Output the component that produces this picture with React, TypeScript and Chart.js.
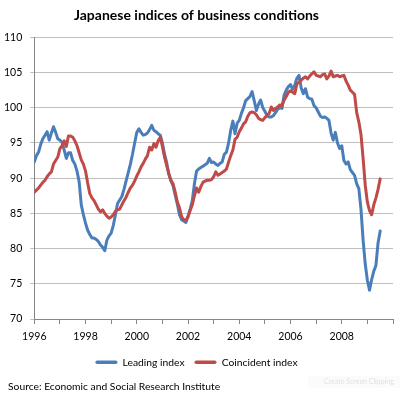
import { useEffect, useRef } from 'react'
import { Chart, registerables } from 'chart.js'

Chart.register(...registerables)

// monthly values, Jan 1996 .. Jul 2009
const START_YEAR = 1996

const leadingIndex = [
  92.3, 93.2, 93.7, 94.8, 95.6, 96.1, 96.6, 95.4, 96.4, 97.3, 96.5, 95.6,
  95.4, 95.1, 94.0, 92.8, 93.6, 93.6, 92.5, 92.0, 91.0, 89.5, 86.2, 84.8,
  83.6, 82.6, 82.0, 81.5, 81.5, 81.3, 81.0, 80.5, 80.2, 79.7, 81.2, 81.8,
  82.2, 83.3, 84.8, 86.4, 86.9, 87.4, 88.4, 89.6, 90.8, 92.0, 93.4, 95.0,
  96.5, 97.0, 96.5, 96.1, 96.2, 96.4, 96.9, 97.5, 96.8, 96.6, 96.3, 96.1,
  95.0, 93.4, 92.2, 90.6, 89.6, 88.9, 87.6, 86.3, 84.8, 84.1, 83.9, 83.7,
  84.6, 85.6, 86.8, 89.2, 91.0, 91.3, 91.5, 91.7, 91.9, 92.1, 92.8, 92.2,
  92.3, 92.0, 91.8, 92.1, 92.3, 93.4, 93.7, 95.0, 96.8, 98.1, 96.3, 97.8,
  98.2, 99.2, 100.0, 101.0, 101.3, 101.6, 102.3, 101.0, 99.6, 100.5, 101.1, 100.0,
  99.5, 98.9, 98.7, 98.7, 98.9, 99.3, 99.8, 100.0, 99.9, 101.8, 102.5, 103.0,
  103.3, 102.6, 103.2, 104.2, 104.6, 102.8, 102.0, 102.7, 101.5, 101.3, 101.2, 100.3,
  100.0, 99.4, 98.8, 98.6, 98.7, 98.5, 98.2, 96.4, 95.4, 96.5, 95.0, 94.2,
  94.6, 92.5, 92.0, 92.3, 91.2, 90.8, 90.4, 89.2, 88.5, 85.6, 81.2, 77.8,
  75.5, 74.1, 75.6, 76.8, 77.6, 80.8, 82.5,
]

const coincidentIndex = [
  88.0, 88.3, 88.6, 89.0, 89.4, 89.7, 90.2, 90.6, 90.9, 92.0, 92.5, 93.0,
  94.2, 94.6, 95.3, 94.5, 96.0, 96.0, 95.8, 95.3, 94.6, 93.6, 92.6, 92.0,
  91.0, 89.3, 87.8, 87.2, 86.8, 86.2, 85.6, 85.2, 85.5, 85.0, 84.6, 84.3,
  84.5, 84.8, 85.3, 85.5, 85.6, 86.2, 86.8, 87.3, 88.0, 88.6, 89.0, 89.6,
  90.3, 90.9, 91.6, 92.1, 92.7, 93.2, 94.4, 94.0, 94.9, 94.4, 95.3, 95.8,
  94.5, 93.0, 91.8, 90.6, 89.7, 89.2, 88.0, 86.6, 85.8, 84.5, 84.1, 84.0,
  84.5, 85.4, 86.2, 87.5, 88.6, 88.0, 88.8, 89.4, 89.6, 89.7, 89.7, 89.8,
  90.2, 90.9, 90.4, 90.6, 90.8, 91.0, 91.3, 92.3, 93.2, 94.0, 95.5, 95.8,
  96.6, 97.1, 97.7, 98.0, 98.8, 99.3, 99.4, 99.3, 99.0, 98.5, 98.3, 98.2,
  98.6, 98.9, 99.2, 100.1, 99.6, 99.9, 100.1, 100.4, 100.3, 101.1, 101.6, 102.2,
  102.4, 102.2, 102.0, 103.4, 103.6, 103.9, 104.2, 104.4, 104.1, 104.5, 104.8, 105.1,
  104.6, 104.5, 104.4, 104.7, 104.8, 104.1, 104.5, 105.2, 104.4, 104.5, 104.6, 104.4,
  104.5, 104.6, 103.8, 103.2, 102.5, 102.2, 101.9, 99.3, 98.0, 96.2, 92.8, 89.0,
  86.6, 85.4, 84.8, 86.2, 87.2, 88.4, 89.9,
]

const seriesNames = ['Leading index', 'Coincident index']
const yTicks = [70, 75, 80, 85, 90, 95, 100, 105, 110]
const xRange = [1996, 2010]
const sourceNote = 'Source: Economic and Social Research Institute'

const toPoints = (values: number[]) =>
  values.map((v, i) => ({ x: START_YEAR + i / 12, y: v }))

const FONT = 'Lato, "Open Sans", sans-serif'

// source line and the faint clipping-tool label under the chart
const footer = {
  id: 'footer',
  afterDraw(chart: Chart) {
    const { ctx } = chart
    ctx.save()
    ctx.textAlign = 'left'
    ctx.textBaseline = 'middle'
    ctx.fillStyle = '#000'
    ctx.font = '10.3px ' + FONT
    ctx.fillText(sourceNote, 8, 387)
    ctx.fillStyle = '#fbfbfb'
    ctx.fillRect(308, 376, 92, 12)
    ctx.fillStyle = '#e2e2e2'
    ctx.font = '7px ' + FONT
    ctx.fillText('Create Screen Clipping', 324, 382)
    ctx.restore()
  },
}

export default function App() {
  const canvasRef = useRef<HTMLCanvasElement | null>(null)

  useEffect(() => {
    let chart: Chart<'line', { x: number; y: number }[]> | null = null
    if (canvasRef.current) {
      chart = new Chart(canvasRef.current, {
        type: 'line',
        data: {
          datasets: [
            {
              label: seriesNames[0],
              data: toPoints(leadingIndex),
              borderColor: '#4A7EBB',
              backgroundColor: '#4A7EBB',
              borderWidth: 3,
              pointRadius: 0,
              borderJoinStyle: 'round',
              borderCapStyle: 'round',
              order: 1,
            },
            {
              label: seriesNames[1],
              data: toPoints(coincidentIndex),
              borderColor: '#BE4B48',
              backgroundColor: '#BE4B48',
              borderWidth: 3,
              pointRadius: 0,
              borderJoinStyle: 'round',
              borderCapStyle: 'round',
              order: 0,
            },
          ],
        },
        options: {
          animation: false,
          responsive: true,
          maintainAspectRatio: false,
          layout: { padding: { left: 0, right: 7, top: 0, bottom: 22.5 } },
          scales: {
            x: {
              type: 'linear',
              min: xRange[0],
              max: xRange[1],
              afterFit: (scale) => {
                scale.height = 28.2
              },
              grid: { drawOnChartArea: false, drawTicks: true, tickLength: 5, color: '#868686' },
              border: { color: '#868686' },
              ticks: {
                stepSize: 1,
                autoSkip: false,
                maxRotation: 0,
                padding: 6,
                color: '#000',
                font: { family: FONT, size: 10.5 },
                callback: (v) => {
                  const year = Number(v)
                  return year % 2 === 0 && year < xRange[1] ? String(year) : ''
                },
              },
            },
            y: {
              min: yTicks[0],
              max: yTicks[yTicks.length - 1],
              afterBuildTicks: (scale) => {
                scale.ticks = yTicks.map((v) => ({ value: v }))
              },
              afterFit: (scale) => {
                scale.width = 34.3
              },
              grid: { color: '#BFBFBF', tickLength: 4 },
              border: { color: '#868686' },
              ticks: {
                padding: 8,
                color: '#000',
                font: { family: FONT, size: 10.5 },
              },
            },
          },
          plugins: {
            title: {
              display: true,
              text: 'Japanese indices of business conditions',
              color: '#000',
              font: { family: FONT, size: 14, weight: 'bold' },
              padding: { top: 7.1, bottom: 13.4 },
            },
            legend: {
              position: 'bottom',
              labels: {
                boxWidth: 22,
                boxHeight: 3.5,
                padding: 10,
                color: '#000',
                font: { family: FONT, size: 10.3 },
                useBorderRadius: true,
                borderRadius: 1.75,
                sort: (a, b) => (a.datasetIndex ?? 0) - (b.datasetIndex ?? 0),
                generateLabels: (c) =>
                  Chart.defaults.plugins.legend.labels
                    .generateLabels(c)
                    .map((item) => ({ ...item, lineWidth: 0, fillStyle: item.strokeStyle })),
              },
            },
            tooltip: { enabled: false },
          },
        },
        plugins: [footer],
      })
    }
    return () => {
      if (chart) {
        chart.destroy()
      }
    }
  }, [])

  return (
    <div style={{ position: 'absolute', left: 0, top: 0, width: 400, height: 400, background: '#fff' }}>
      <canvas ref={canvasRef} />
    </div>
  )
}
